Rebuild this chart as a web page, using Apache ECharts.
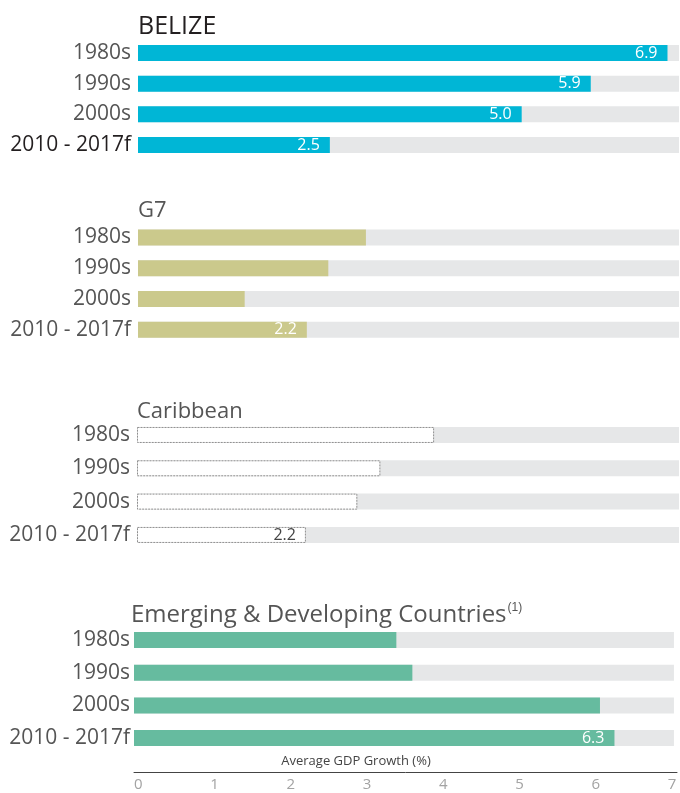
<!DOCTYPE html>
<html>
<head>
<meta charset="utf-8">
<script src="https://cdn.jsdelivr.net/npm/echarts@6/dist/echarts.min.js"></script>
<style>
  html, body { margin: 0; padding: 0; background: #fff; }
  #main { width: 680px; height: 793px; }
</style>
</head>
<body>
<div id="main"></div>
<script>
// data
var decades = ['1980s', '1990s', '2000s', '2010 - 2017f'];
var belize = [6.9, 5.9, 5.0, 2.5];
var g7 = [2.97, 2.48, 1.39, 2.2];
var caribbean = [3.87, 3.17, 2.87, 2.2];
var emerging = [3.44, 3.65, 6.11, 6.3];
var xTicks = [0, 1, 2, 3, 4, 5, 6, 7];
// which bars carry a value label
var belizeLabels = [true, true, true, true];
var otherLabels = [false, false, false, true];

var font = '"Open Sans", "Noto Sans", sans-serif';

var panels = [
  { title: 'BELIZE', data: belize, labels: belizeLabels, color: '#00b6d6', left: 138, top: 37.6, height: 122.8, max: 7.05,
    titleY: 32, titleSize: 25, titleColor: '#231f20' },
  { title: 'G7', data: g7, labels: otherLabels, color: '#cbc98c', left: 138, top: 222, height: 123, max: 7.05,
    titleY: 216, titleSize: 22, titleColor: '#555' },
  { title: 'Caribbean', data: caribbean, labels: otherLabels, color: '#fff', outline: true, left: 137, top: 418.3, height: 133.3, max: 7.06,
    titleY: 417, titleSize: 22, titleColor: '#555' },
  { title: 'Emerging & Developing Countries', sup: '(1)', data: emerging, labels: otherLabels, color: '#66bb9f', left: 134, top: 623.7, height: 130.7, max: 7.12,
    track: 7.08, titleY: 619, titleSize: 24, titleColor: '#555' }
];

var grid = [], xAxis = [], yAxis = [], series = [], graphic = [];

panels.forEach(function (p, i) {
  var last = i === panels.length - 1;
  grid.push({ left: p.left, right: last ? 0 : 1, top: p.top, height: p.height });
  xAxis.push({
    gridIndex: i, type: 'value', min: 0, max: p.max, interval: 1,
    offset: last ? 18 : 0,
    splitLine: { show: false },
    axisTick: { show: false },
    axisLine: { show: last, lineStyle: { color: '#444', width: 1 } },
    axisLabel: {
      show: last, color: '#a3a3a3', fontSize: 15, fontFamily: font, align: 'left', margin: 5,
      formatter: function (v) { return xTicks.indexOf(v) >= 0 ? String(v) : ''; }
    }
  });
  yAxis.push({
    gridIndex: i, type: 'category', data: decades, inverse: true,
    axisLine: { show: false }, axisTick: { show: false },
    axisLabel: {
      fontSize: 21, fontFamily: font, margin: last ? 4 : 7,
      color: function (v, idx) { return (i === 0 && idx === 3) ? '#231f20' : '#555'; }
    }
  });
  series.push({
    type: 'bar', xAxisIndex: i, yAxisIndex: i, barWidth: 16,
    showBackground: !last,
    backgroundStyle: { color: '#e6e7e8' },
    itemStyle: p.outline
      ? { color: '#fff', borderColor: '#8f8f8f', borderWidth: 1, borderType: [2, 1] }
      : { color: p.color },
    data: p.data.map(function (v, k) {
      return {
        value: v,
        label: {
          show: p.labels[k], position: 'insideRight', distance: 10,
          color: p.outline ? '#444' : '#fff', fontSize: 16, fontFamily: font,
          formatter: function (d) { return d.value.toFixed(1); }
        }
      };
    })
  });
  if (last) {
    // grey track behind the last panel's bars, ending where the others end
    series.push({
      type: 'bar', xAxisIndex: i, yAxisIndex: i, barWidth: 16, barGap: '-100%', z: 1, silent: true,
      itemStyle: { color: '#e6e7e8' },
      data: decades.map(function () { return p.track; })
    });
  }
  graphic.push({
    type: 'text', left: i === 3 ? 131 : p.left, top: p.titleY - p.titleSize * 0.72,
    style: {
      text: p.sup ? p.title + '{s|' + p.sup + '}' : p.title,
      fill: p.titleColor, fontSize: p.titleSize, fontFamily: font,
      rich: { s: { fontSize: 12, fill: p.titleColor, verticalAlign: 'top', padding: [0, 0, 14, 1] } }
    }
  });
});

graphic.push({
  type: 'text', x: 356, y: 761,
  style: { text: 'Average GDP Growth (%)', fill: '#444', fontSize: 13, fontFamily: font, align: 'center', verticalAlign: 'middle' }
});

var chart = echarts.init(document.getElementById('main'));
chart.setOption({
  animation: false,
  backgroundColor: '#fff',
  grid: grid,
  xAxis: xAxis,
  yAxis: yAxis,
  series: series,
  graphic: graphic
});
</script>
</body>
</html>
